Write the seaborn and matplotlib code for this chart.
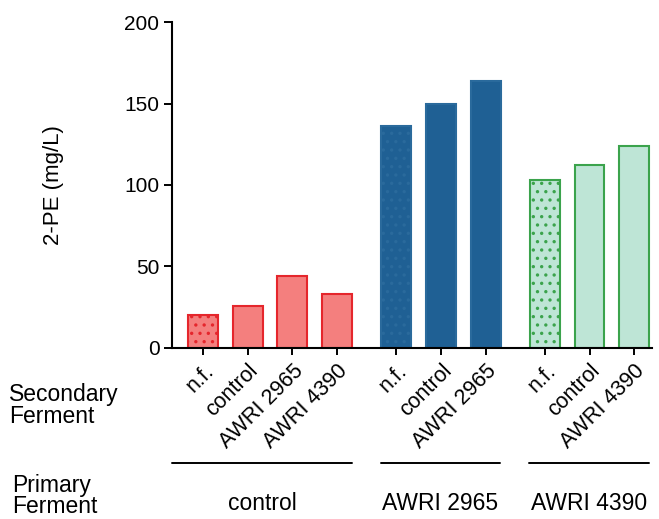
import numpy as np
import pandas as pd
import matplotlib
matplotlib.use("Agg")
import matplotlib.pyplot as plt
import seaborn as sns
from matplotlib.transforms import blended_transform_factory

# ---- data ----
primary_groups = ["control", "AWRI 2965", "AWRI 4390"]
control_secondary = ["n.f.", "control", "AWRI 2965", "AWRI 4390"]
awri2965_secondary = ["n.f.", "control", "AWRI 2965"]
awri4390_secondary = ["n.f.", "control", "AWRI 4390"]
control_values = [20, 26, 44, 33]
awri2965_values = [136, 150, 164]
awri4390_values = [103, 112, 124]
y_ticks = [0, 50, 100, 150, 200]

secondary = [control_secondary, awri2965_secondary, awri4390_secondary]
values = [control_values, awri2965_values, awri4390_values]

fills = {"control": "#F47F7E", "AWRI 2965": "#1F6094", "AWRI 4390": "#BEE5D6"}
edges = {"control": "#E5262C", "AWRI 2965": "#2A6A9C", "AWRI 4390": "#3BA34C"}
dots = {"control": "#B8323A", "AWRI 2965": "#5A98CE", "AWRI 4390": "#2C6E3A"}

gap = 0.33
rows = []
start = 0.0
for g, labs, vals in zip(primary_groups, secondary, values):
    for i, (l, v) in enumerate(zip(labs, vals)):
        rows.append({"pos": start + i, "group": g, "secondary": l, "value": v})
    start += len(labs) + gap
df = pd.DataFrame(rows)

sns.set_theme(style="ticks")
plt.rcParams["font.family"] = ["Liberation Sans", "DejaVu Sans"]
plt.rcParams["hatch.linewidth"] = 1.2

fig = plt.figure(figsize=(6.59, 5.19), dpi=100)
ax = fig.add_axes([0.261, 0.3295, 0.729, 0.6281])

sns.barplot(data=df, x="pos", y="value", hue="group", palette=fills,
            native_scale=True, dodge=False, width=0.67, legend=False,
            saturation=1, ax=ax)

for p in ax.patches:
    cx = p.get_x() + p.get_width() / 2
    idx = int(np.argmin(np.abs(df["pos"].values - cx)))
    row = df.iloc[idx]
    p.set_linewidth(1.5)
    p.set_edgecolor(edges[row["group"]])
    if row["secondary"] == "n.f.":
        p.set_hatch("..")
        if hasattr(p, "set_hatchcolor"):
            p.set_hatchcolor(dots[row["group"]])

ax.set_xlim(-0.7, 10.07)
ax.set_ylim(0, 200)
ax.set_yticks(y_ticks)
ax.set_yticklabels([str(t) for t in y_ticks], fontsize=15, color="black")
ax.set_xticks(df["pos"].values)
ax.set_xticklabels(df["secondary"].values, rotation=45, ha="right",
                   rotation_mode="anchor", fontsize=15.5, color="black")
ax.tick_params(axis="x", length=5, width=1.4, pad=4, color="black")
ax.tick_params(axis="y", length=6, width=1.4, pad=3, color="black")
sns.despine(ax=ax)
for s in ["left", "bottom"]:
    ax.spines[s].set_linewidth(1.5)
    ax.spines[s].set_color("black")
ax.set_xlabel("")
ax.set_ylabel("2-PE (mg/L)", fontsize=16, color="black")
ax.yaxis.set_label_coords(-0.225, 0.5)

trans = blended_transform_factory(ax.transData, fig.transFigure)
line_y = 1 - 463 / 519
lab_y = 1 - 503 / 519
for g in primary_groups:
    sub = df[df["group"] == g]
    x0 = max(sub["pos"].min() - 0.35, -0.7)
    if g == primary_groups[0]:
        x0 = -0.7
    x1 = sub["pos"].max() + 0.33
    ax.plot([x0, x1], [line_y, line_y], transform=trans, color="black",
            lw=1.4, clip_on=False)
    ax.text((x0 + x1) / 2, lab_y, g, transform=trans, ha="center",
            va="center", fontsize=16.5, color="black")

fig.text(9 / 659, 1 - 383 / 519, "Secondary\nFerment", ha="left", va="top",
         fontsize=16.5, linespacing=0.95, color="black")
fig.text(12 / 659, 1 - 474 / 519, "Primary\nFerment", ha="left", va="top",
         fontsize=16.5, linespacing=0.88, color="black")

fig.savefig("out.png", dpi=100)
